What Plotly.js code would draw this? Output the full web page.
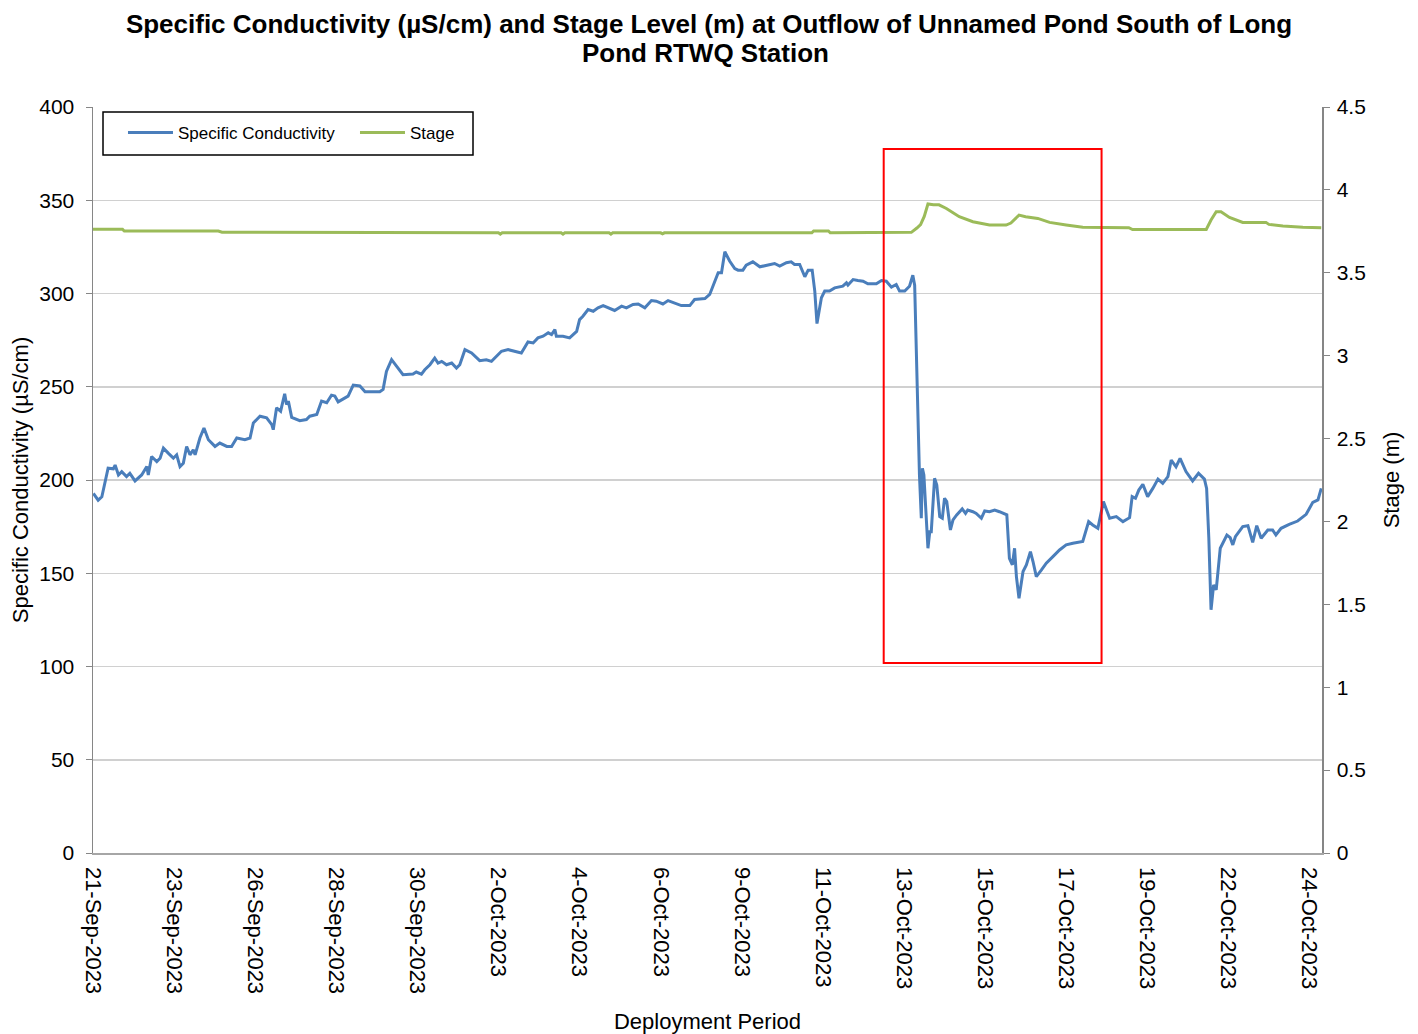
<!DOCTYPE html>
<html>
<head>
<meta charset="utf-8">
<script src="https://cdn.plot.ly/plotly-3.0.1.min.js"></script>
<style>
  body { margin: 0; background: #fff; }
  #chart { width: 1418px; height: 1034px; }
</style>
</head>
<body>
<div id="chart"></div>
<script>
// days since 21-Sep-2023 00:00
const condDay = [0.01, 0.14, 0.24, 0.41, 0.55, 0.60, 0.69, 0.78, 0.91, 1.00, 1.14, 1.32, 1.46, 1.50, 1.59, 1.73, 1.82, 1.91,
  2.04, 2.18, 2.27, 2.36, 2.45, 2.54, 2.63, 2.72, 2.77, 2.90, 3.01, 3.13, 3.31, 3.44, 3.63, 3.76, 3.90, 4.12, 4.26, 4.35,
  4.53, 4.71, 4.85, 4.89, 4.98, 5.09, 5.20, 5.25, 5.30, 5.39, 5.61, 5.79, 5.88, 6.07, 6.20, 6.34, 6.47, 6.56, 6.65, 6.79,
  6.92, 7.06, 7.24, 7.38, 7.78, 7.87, 7.96, 8.10, 8.23, 8.41, 8.68, 8.77, 8.91, 9.00, 9.14, 9.27, 9.36, 9.46, 9.59, 9.73,
  9.86, 9.95, 10.09, 10.27, 10.49, 10.67, 10.81, 10.95, 11.08, 11.26, 11.44, 11.62, 11.80, 11.94, 12.07, 12.21, 12.35,
  12.44, 12.53, 12.57, 12.75, 12.93, 13.12, 13.20, 13.29, 13.43, 13.57, 13.70, 13.84, 13.97, 14.15, 14.34, 14.47, 14.65,
  14.79, 14.97, 15.15, 15.28, 15.46, 15.60, 15.74, 15.96, 16.19, 16.32, 16.46, 16.60, 16.73, 16.87, 16.96, 17.05, 17.14,
  17.27, 17.41, 17.50, 17.63, 17.72, 17.90, 18.09, 18.27, 18.49, 18.63, 18.81, 18.94, 19.03, 19.17, 19.31, 19.40, 19.51,
  19.58, 19.64, 19.76, 19.85, 19.98, 20.12, 20.34, 20.44, 20.48, 20.62, 20.75, 20.89, 21.02, 21.25, 21.39, 21.52, 21.66,
  21.79, 21.88, 22.02, 22.15, 22.24, 22.29, 22.35, 22.42, 22.47, 22.50, 22.54, 22.59, 22.65, 22.70, 22.74, 22.83, 22.89,
  22.97, 23.04, 23.10, 23.16, 23.26, 23.33, 23.43, 23.58, 23.67, 23.73, 23.87, 23.96, 24.10, 24.19, 24.32, 24.46, 24.59,
  24.73, 24.79, 24.86, 24.94, 25.00, 25.05, 25.12, 25.23, 25.32, 25.43, 25.50, 25.59, 25.73, 25.86, 26.04, 26.22, 26.40,
  26.58, 26.85, 27.01, 27.12, 27.21, 27.26, 27.41, 27.58, 27.76, 27.94, 28.12, 28.19, 28.28, 28.37, 28.48, 28.61, 28.75,
  28.89, 29.02, 29.16, 29.25, 29.38, 29.49, 29.65, 29.83, 29.99, 30.15, 30.21, 30.27, 30.33, 30.40, 30.47, 30.58, 30.76,
  30.85, 30.92, 30.99, 31.19, 31.33, 31.46, 31.57, 31.69, 31.87, 32.00, 32.09, 32.23, 32.45, 32.68, 32.91, 33.09, 33.23, 33.32];
const condVal = [192.8, 189.2, 191, 206.3, 206, 208, 202.7, 204.5, 201.8, 203.6, 199.5, 202.7, 207.2, 202.7, 212.6, 209.9, 211.7, 217.1,
  214.4, 211.7, 213.5, 207.2, 209, 218, 213.5, 216.2, 213.5, 222.5, 227.9, 221.6, 218, 219.8, 218, 218, 222.5, 221.6, 222.5, 230.6,
  234.2, 233.3, 229.7, 227, 238.7, 236.9, 246.2, 240.5, 242.3, 233.6, 231.8, 232.4, 234.2, 235.1, 242.3, 241.4, 245.5, 245, 241.9, 243.7,
  245, 250.9, 250.4, 247.3, 247.3, 248.6, 258.2, 264.5, 260.9, 256.5, 256.8, 257.9, 256.8, 259.1, 261.8, 265.4, 262.7, 263.6, 261.8, 262.7,
  260, 261.8, 269.9, 268.1, 264, 264.5, 263.6, 266.3, 269, 269.9, 269, 268.1, 274, 273.5, 276.2, 277.1, 278.9,
  278, 280.6, 277.1, 277.1, 276.2, 279.7, 286, 287.8, 291.4, 290.5, 292.3, 293.5, 292.3, 290.9, 293.2, 292.3, 294.1,
  294.4, 292.3, 296.2, 295.9, 294.4, 296.2, 295.3, 293.5, 293.5, 296.8, 297.1, 297.3, 299.5, 306.6, 311.1, 311.1, 322.4,
  317.4, 313.4, 312.5, 312.5, 315.2, 317, 314.3, 315.2, 316.1, 314.7, 316.5, 317, 315.6, 315.6, 309, 312.5, 312.5,
  301.3, 283.9, 297.7, 301.3, 301.3, 303, 303.9, 305.7, 304.5, 307.5, 307, 306.6, 305.2, 305.2, 307, 306.6, 303.4,
  304.8, 301.3, 301.3, 303.9, 309.8, 304.5, 256.3, 202.7, 179.5, 206.3, 202.7, 183, 163.4, 172.3, 172.3, 200.9, 197.3,
  180.4, 179.5, 190.2, 188.4, 173.2, 178.6, 181.3, 184.5, 182.1, 183.9, 183, 182.1, 179.5, 183.4, 183, 183.9, 183,
  182.1, 181.3, 158, 154.5, 163.4, 148.2, 136.6, 150.9, 154.5, 161.6, 156.3, 148.2, 151.8, 155.4, 158.9, 162.5, 165.2,
  166.1, 167, 177.7, 175.9, 174.5, 174.1, 188.4, 179.5, 180.4, 177.7, 179.8, 191.1, 190.2, 194.6, 197.7, 191.1, 195.5,
  200.5, 198.2, 201.8, 210.7, 207.1, 211.6, 204.5, 199.5, 203.6, 200.5, 195.5, 168.75, 130.4, 143.75, 141.1, 163.4, 170.5,
  169.1, 165.2, 169.6, 175, 175.5, 166.6, 175.5, 168.75, 173.2, 173.2, 170.5, 174.1, 176.25, 178, 181.6, 188, 189.3, 195.5];

const stageDay = [0, 0.8, 0.85, 3.4, 3.5, 8.2, 8.3, 11.0, 11.05, 11.1, 12.7, 12.75, 12.8, 14.0, 14.05, 14.1, 15.4, 15.45, 15.5,
  19.5, 19.55, 19.95, 20.0, 22.2, 22.35, 22.45, 22.55, 22.65, 22.8, 22.95, 23.15, 23.5, 23.87, 24.32, 24.77, 24.9, 25.12,
  25.3, 25.63, 25.95, 26.4, 26.85, 28.1, 28.2, 30.2, 30.33, 30.47, 30.6, 30.83, 31.19, 31.82, 31.9, 32.28, 32.82, 33.32];
const stageVal = [3.762, 3.762, 3.752, 3.752, 3.745, 3.745, 3.741, 3.741, 3.733, 3.741, 3.741, 3.733, 3.741, 3.741, 3.733, 3.741, 3.741, 3.735, 3.741,
  3.741, 3.752, 3.752, 3.741, 3.744, 3.77, 3.79, 3.84, 3.915, 3.91, 3.91, 3.888, 3.838, 3.808, 3.788, 3.788, 3.80, 3.848,
  3.838, 3.828, 3.804, 3.788, 3.774, 3.772, 3.761, 3.761, 3.818, 3.868, 3.868, 3.834, 3.804, 3.804, 3.792, 3.782, 3.774, 3.772];

const tickLabels = ['21-Sep-2023', '23-Sep-2023', '26-Sep-2023', '28-Sep-2023', '30-Sep-2023', '2-Oct-2023', '4-Oct-2023',
  '6-Oct-2023', '9-Oct-2023', '11-Oct-2023', '13-Oct-2023', '15-Oct-2023', '17-Oct-2023', '19-Oct-2023', '22-Oct-2023', '24-Oct-2023'];

const START = Date.UTC(2023, 8, 21);
function toDate(d) {
  return new Date(START + d * 86400000).toISOString().replace('T', ' ').slice(0, 19);
}

const FONT = 'Liberation Sans, Arial, sans-serif';

const cond = {
  x: condDay.map(toDate), y: condVal,
  type: 'scatter', mode: 'lines', name: 'Specific Conductivity',
  line: { color: '#4a7ebb', width: 3 }
};
const stage = {
  x: stageDay.map(toDate), y: stageVal,
  type: 'scatter', mode: 'lines', name: 'Stage', yaxis: 'y2',
  line: { color: '#9bbb59', width: 3 }
};

const layout = {
  width: 1418, height: 1034,
  margin: { l: 93, r: 96, t: 107, b: 181 },
  paper_bgcolor: '#fff', plot_bgcolor: '#fff',
  font: { family: FONT, color: '#000' },
  // title split in two so the line spacing matches the original
  title: {
    text: '<b>Specific Conductivity (µS/cm) and Stage Level (m) at Outflow of Unnamed Pond South of Long</b>',
    x: 0.5, xanchor: 'center', y: 1 - 24 / 1034, yanchor: 'middle',
    font: { family: FONT, size: 26, color: '#000' }
  },
  annotations: [{
    text: '<b>Pond RTWQ Station</b>',
    xref: 'paper', yref: 'paper', x: 0.4986, y: (853 - 53) / 746,
    xanchor: 'center', yanchor: 'middle', showarrow: false,
    font: { family: FONT, size: 26, color: '#000' }
  }],
  xaxis: {
    type: 'date',
    range: [toDate(0), toDate(33.34)],
    tickvals: tickLabels.map((t, i) => toDate(i * 2.2)),
    ticktext: tickLabels,
    tickangle: 90,
    tickfont: { size: 22 },
    ticks: '', ticklabelstandoff: 8,
    showgrid: false, zeroline: false,
    showline: true, linecolor: '#a6a6a6', linewidth: 1.5,
    title: { text: 'Deployment Period', font: { size: 22 }, standoff: 20 }
  },
  yaxis: {
    range: [0, 400], dtick: 50,
    tickfont: { size: 21 },
    ticks: 'outside', ticklen: 6, tickcolor: '#868686', ticklabelstandoff: 7,
    showgrid: true, gridcolor: '#d0d0d0', gridwidth: 1.5,
    zeroline: false,
    showline: true, linecolor: '#868686', linewidth: 1.5,
    title: { text: 'Specific Conductivity (µS/cm)', font: { size: 22 }, standoff: 4 }
  },
  yaxis2: {
    overlaying: 'y', side: 'right',
    range: [0, 4.5], dtick: 0.5,
    tickfont: { size: 21 },
    ticks: 'outside', ticklen: 6, tickcolor: '#868686', ticklabelstandoff: 3,
    showgrid: false, zeroline: false,
    showline: true, linecolor: '#868686', linewidth: 1.5,
    title: { text: 'Stage (m)', font: { size: 22 }, standoff: 18 }
  },
  showlegend: true,
  legend: {
    orientation: 'h',
    x: 0.0244, xanchor: 'left', y: 0.9893, yanchor: 'top',
    bgcolor: 'rgba(0,0,0,0)', borderwidth: 0,
    font: { size: 17 },
    itemwidth: 45,
    entrywidth: 172
  },
  shapes: [
    // legend frame
    { type: 'rect', xref: 'paper', yref: 'paper', x0: 0.00814, x1: 0.3092, y0: 0.9357, y1: 0.9933,
      line: { color: '#000', width: 1.5 }, fillcolor: '#fff', layer: 'below' },
    // highlight box
    { type: 'rect', xref: 'x', yref: 'y',
      x0: toDate(21.45), x1: toDate(27.36), y0: 101.9, y1: 377.5,
      line: { color: '#ff0000', width: 2 }, fillcolor: 'rgba(0,0,0,0)' }
  ]
};

Plotly.newPlot('chart', [cond, stage], layout, { displayModeBar: false, staticPlot: true });
</script>
</body>
</html>
